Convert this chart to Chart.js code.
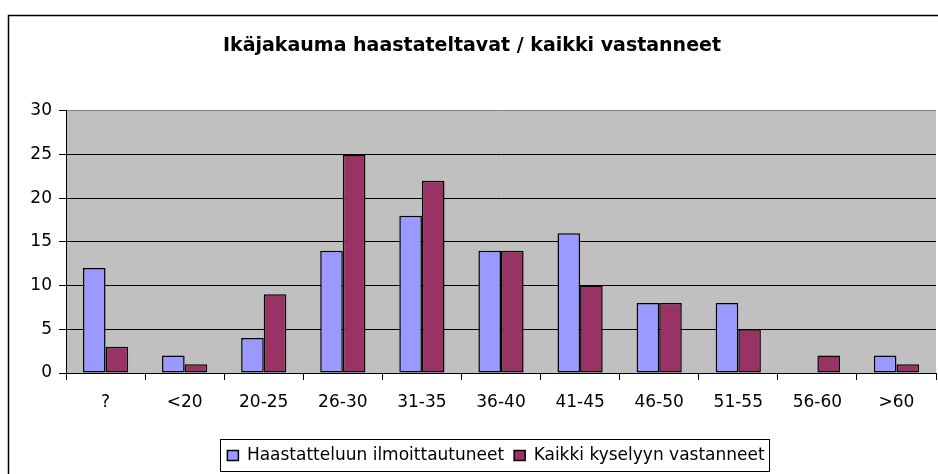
<!DOCTYPE html>
<html><head><meta charset="utf-8">
<script src="https://cdn.jsdelivr.net/npm/chart.js@4"></script>
<style>html,body{margin:0;padding:0;background:#fff}#wrap{width:938px;height:474px;position:relative}</style>
</head><body><div id="wrap"><canvas id="c" width="938" height="474"></canvas></div>
<script>
const categories = ['?', '<20', '20-25', '26-30', '31-35', '36-40', '41-45', '46-50', '51-55', '56-60', '>60'];
const haastatteluun = [12, 2, 4, 14, 18, 14, 16, 8, 8, 0, 2];
const kaikki = [3, 1, 9, 25, 22, 14, 10, 8, 5, 2, 1];
const seriesNames = ['Haastatteluun ilmoittautuneet', 'Kaikki kyselyyn vastanneet'];
const yTicks = [0, 5, 10, 15, 20, 25, 30];
const titleText = 'Ikäjakauma haastateltavat / kaikki vastanneet';

const FONT = "'DejaVu Sans', 'Liberation Sans', Arial, sans-serif";

const framePlugin = {
  id: 'frame',
  afterLayout(chart) {
    const lg = chart.legend;
    if (lg) { lg.left += 24; lg.right += 24; }
  },
  beforeDraw(chart) {
    const ctx = chart.ctx, a = chart.chartArea;
    ctx.save();
    ctx.fillStyle = '#fff';
    ctx.fillRect(0, 0, chart.width, chart.height);
    ctx.strokeStyle = '#000';
    ctx.lineWidth = 1.5;
    ctx.strokeRect(8.5, 15.5, chart.width + 10, chart.height + 10);
    ctx.fillStyle = '#C0C0C0';
    ctx.fillRect(a.left, a.top, a.right - a.left, a.bottom - a.top);
    ctx.restore();
  },
  afterDraw(chart) {
    const lg = chart.legend;
    if (!lg || !lg.legendHitBoxes) return;
    const hb = lg.legendHitBoxes;
    let l = Infinity, r = -Infinity;
    hb.forEach(b => { l = Math.min(l, b.left); r = Math.max(r, b.left + b.width); });
    const ctx = chart.ctx;
    ctx.save();
    ctx.strokeStyle = '#000';
    ctx.lineWidth = 1;
    const top = Math.round(lg.top + 2) + 0.5;
    ctx.strokeRect(Math.round(l - 7) + 0.5, top, Math.round(r - l + 12), Math.round(lg.bottom - 3) - top + 0.5);
    ctx.restore();
  }
};

new Chart(document.getElementById('c'), {
  type: 'bar',
  data: {
    labels: categories,
    datasets: [
      { label: seriesNames[0], data: haastatteluun, backgroundColor: '#9999FF', borderColor: '#000', borderWidth: 1.5 },
      { label: seriesNames[1], data: kaikki, backgroundColor: '#993366', borderColor: '#000', borderWidth: 1.5 }
    ]
  },
  plugins: [framePlugin],
  options: {
    responsive: false,
    animation: false,
    devicePixelRatio: 1,
    layout: { padding: { left: 8, right: 2, top: 15, bottom: 0 } },
    datasets: { bar: { categoryPercentage: 2 / 3.5, barPercentage: 1, borderSkipped: false } },
    plugins: {
      tooltip: { enabled: false },
      title: {
        display: true, text: titleText, color: '#000',
        font: { family: FONT, size: 19, weight: 'bold' },
        padding: { top: 20, bottom: 53 }
      },
      legend: {
        position: 'bottom',
        labels: {
          color: '#000', boxWidth: 11, boxHeight: 10, padding: 10,
          font: { family: FONT, size: 17 },
          generateLabels(chart) {
            const items = Chart.defaults.plugins.legend.labels.generateLabels(chart);
            items.forEach(it => { it.lineWidth = 1.5; });
            return items;
          }
        }
      }
    },
    scales: {
      y: {
        min: 0, max: 30,
        afterFit(s) { s.width = 58; },
        afterBuildTicks(s) { s.ticks = yTicks.map(v => ({ value: v })); },
        ticks: { color: '#000', font: { family: FONT, size: 17 }, padding: 7 },
        grid: {
          color: ctx => (ctx.tick && ctx.tick.value === 30 ? '#808080' : '#000'),
          tickLength: 7, tickColor: '#000'
        },
        border: { color: '#000', width: 1 }
      },
      x: {
        afterFit(s) { s.height = 64; },
        ticks: { color: '#000', font: { family: FONT, size: 17 }, padding: 12, maxRotation: 0, autoSkip: false },
        grid: { offset: true, drawOnChartArea: false, tickLength: 7, color: '#000' },
        border: { color: '#000', width: 1 }
      }
    }
  }
});
</script></body></html>
